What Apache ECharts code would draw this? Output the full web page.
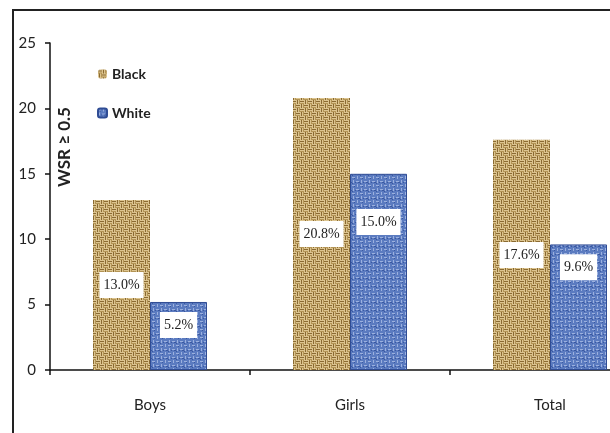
<!DOCTYPE html>
<html>
<head>
<meta charset="utf-8">
<script src="https://cdn.jsdelivr.net/npm/echarts@6/dist/echarts.min.js"></script>
<style>
html,body{margin:0;padding:0;background:#fff;}
#chart{width:610px;height:433px;}
</style>
</head>
<body>
<div id="chart"></div>
<script>
var categories = ['Boys', 'Girls', 'Total'];
var blackValues = [13.0, 20.8, 17.6];
var whiteValues = [5.2, 15.0, 9.6];
var yTicks = [0, 5, 10, 15, 20, 25];
var seriesNames = ['Black', 'White'];
var axisTitle = 'WSR \u2265 0.5';

function makeTan() {
  var c = document.createElement('canvas');
  c.width = 8; c.height = 8;
  var g = c.getContext('2d');
  g.fillStyle = '#dcc48f'; g.fillRect(0, 0, 8, 8);
  g.fillStyle = '#8a6a32';
  g.fillRect(0, 1, 4, 1);
  g.fillRect(4, 5, 4, 1);
  g.fillRect(5, 0, 1, 4);
  g.fillRect(1, 4, 1, 4);
  g.fillStyle = '#b39455';
  g.fillRect(0, 3, 4, 1);
  g.fillRect(4, 7, 4, 1);
  g.fillRect(7, 0, 1, 4);
  g.fillRect(3, 4, 1, 4);
  return c;
}
function makeBlue() {
  var c = document.createElement('canvas');
  c.width = 8; c.height = 8;
  var g = c.getContext('2d');
  g.fillStyle = '#5b7bc0'; g.fillRect(0, 0, 8, 8);
  g.fillStyle = '#9bb0de';
  g.fillRect(0, 1, 3, 1);
  g.fillRect(4, 5, 3, 1);
  g.fillRect(5, 0, 1, 3);
  g.fillRect(1, 4, 1, 3);
  g.fillStyle = '#3a58a0';
  g.fillRect(2, 2, 1, 1);
  g.fillRect(6, 6, 2, 1);
  g.fillRect(0, 7, 1, 1);
  g.fillRect(3, 6, 1, 1);
  return c;
}
var tanPattern = { image: makeTan(), repeat: 'repeat' };
var bluePattern = { image: makeBlue(), repeat: 'repeat' };

var whiteLabelShift = [-11, -50, -40];

function labelStyle() {
  return {
    show: true,
    position: 'inside',
    formatter: function (p) { return p.value.toFixed(1) + '%'; },
    backgroundColor: '#ffffff',
    padding: [6, 4],
    fontFamily: 'Liberation Serif',
    fontSize: 14,
    color: '#222'
  };
}

var chart = echarts.init(document.getElementById('chart'), null, { renderer: 'canvas' });
chart.setOption({
  animation: false,
  backgroundColor: '#ffffff',
  grid: { left: 50, top: 43, width: 600, height: 327, outerBoundsMode: 'none' },
  legend: {
    orient: 'vertical',
    left: 92,
    top: 62,
    itemWidth: 9,
    itemHeight: 9,
    itemGap: 25,
    textStyle: { fontFamily: 'Lato', fontSize: 14, fontWeight: 'bold', color: '#222' },
    data: seriesNames
  },
  xAxis: {
    type: 'category',
    data: categories,
    axisLine: { lineStyle: { color: '#111', width: 1.5 } },
    axisTick: { show: true, length: 5, lineStyle: { color: '#111', width: 1.5 } },
    axisLabel: { margin: 28, fontFamily: 'Lato', fontSize: 15, color: '#222' }
  },
  yAxis: {
    type: 'value',
    min: yTicks[0],
    max: yTicks[yTicks.length - 1],
    interval: yTicks[1] - yTicks[0],
    splitLine: { show: false },
    axisLine: { show: true, lineStyle: { color: '#111', width: 1.5 } },
    axisTick: { show: true, length: 5, lineStyle: { color: '#111', width: 1.5 } },
    axisLabel: { margin: 14, fontFamily: 'Lato', fontSize: 15, color: '#222' }
  },
  series: [
    {
      name: seriesNames[0],
      type: 'bar',
      data: blackValues,
      barGap: '0%',
      barCategoryGap: '43%',
      itemStyle: { color: tanPattern },
      label: labelStyle()
    },
    {
      name: seriesNames[1],
      type: 'bar',
      data: whiteValues.map(function (v, i) {
        return { value: v, label: { offset: [0, whiteLabelShift[i]] } };
      }),
      barGap: '0%',
      barCategoryGap: '43%',
      itemStyle: { color: bluePattern, borderColor: '#2f4c94', borderWidth: 1 },
      label: labelStyle()
    }
  ],
  graphic: [
    {
      type: 'rect',
      shape: { x: 13, y: 10, width: 700, height: 600 },
      style: { fill: null, stroke: '#222', lineWidth: 2 },
      silent: true
    },
    {
      type: 'text',
      x: 65,
      y: 147,
      rotation: Math.PI / 2,
      style: {
        text: axisTitle,
        fontFamily: 'Lato',
        fontSize: 17,
        fontWeight: 'bold',
        fill: '#222',
        align: 'center',
        verticalAlign: 'middle'
      }
    }
  ]
});
</script>
</body>
</html>
